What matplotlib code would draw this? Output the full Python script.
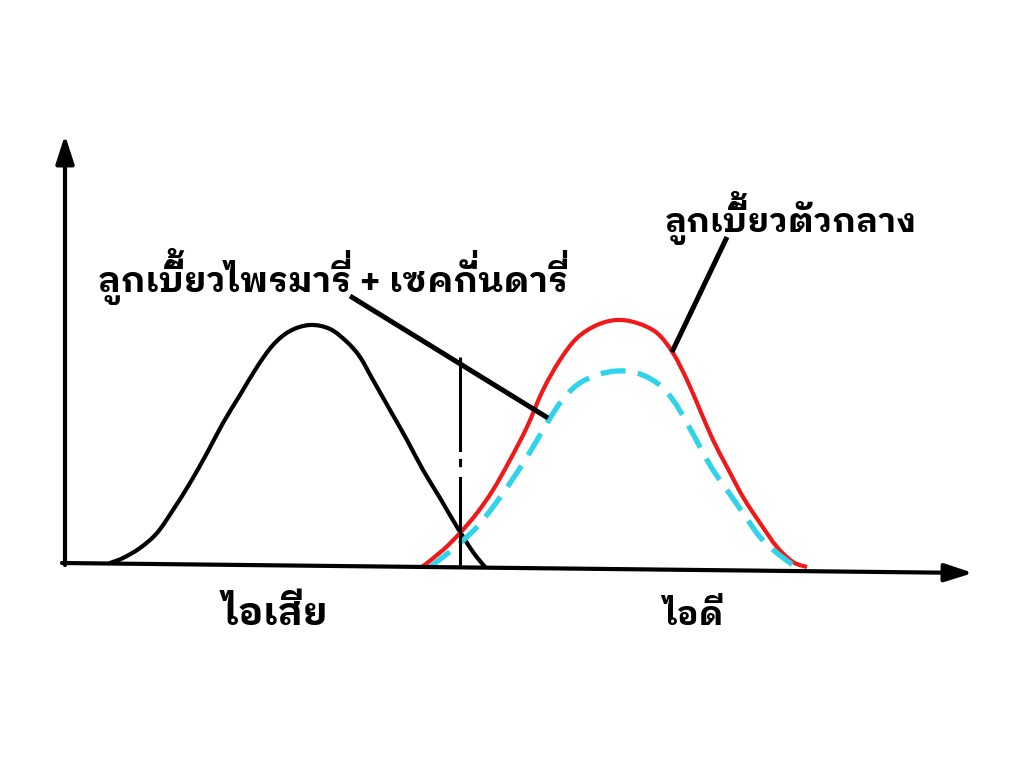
import matplotlib
matplotlib.use("Agg")
import matplotlib.pyplot as plt
from matplotlib import font_manager as fm
from matplotlib.path import Path
from matplotlib.patches import PathPatch
from matplotlib.transforms import IdentityTransform
import numpy as np

# ---------------- data (chart units: x right of origin, y above baseline) ----
black_x = [45, 58, 75, 92, 108, 125, 142, 158, 175, 192, 208, 225, 245,
           265, 282, 295, 308, 325, 342, 358, 375, 392, 408, 420]
black_y = [0, 5, 15, 30, 53, 80, 110, 140, 168, 196, 218, 232, 238,
           234, 221, 206, 183, 153, 123, 93, 65, 36, 11, -4]

red_x = [357, 378, 395, 412, 428, 445, 462, 478, 495, 512, 532, 552,
         572, 592, 608, 622, 635, 648, 662, 678, 695, 712, 728, 742]
red_y = [-4, 13, 30, 50, 73, 103, 136, 173, 203, 225, 238, 243,
         240, 230, 210, 183, 153, 123, 96, 66, 40, 16, 1, -4]

cyan_x = [365, 378, 395, 412, 428, 445, 462, 478, 495, 512, 532, 552,
          572, 592, 608, 622, 635, 648, 662, 678, 695, 712, 728]
cyan_y = [-4, 6, 20, 36, 56, 80, 106, 133, 160, 178, 188, 192,
          190, 180, 163, 140, 116, 93, 73, 50, 26, 10, -2]

cut_x = [395, 395]
cut_y = [206, -4]

label_primary = "ลูกเบี้ยวไพรมารี่ + เซคกั่นดารี่"
label_center = "ลูกเบี้ยวตัวกลาง"
label_bad = "ไอเสีย"
label_good = "ไอดี"

# ---------------- font with Thai glyphs --------------------------------------
def find_thai_font():
    try:
        from fontTools.ttLib import TTFont
    except Exception:
        return None
    cands = []
    for f in fm.fontManager.ttflist:
        try:
            t = TTFont(f.fname, fontNumber=0, lazy=True)
            cmap = t.getBestCmap()
            if cmap and 0x0E01 in cmap and 0x0E35 in cmap:
                n = f.name.lower()
                score = 0
                if "thai" in n:
                    score += 10
                if "looped" in n or n in ("loma", "garuda", "waree", "umpush", "tlwg typo"):
                    score += 20
                w = f.weight
                if w == "bold" or (isinstance(w, int) and w >= 700):
                    score += 5
                if "sans" in n:
                    score += 2
                if "ui" in n.split():
                    score -= 1
                cands.append((score, f))
        except Exception:
            pass
    if not cands:
        return None
    cands.sort(key=lambda c: -c[0])
    return cands[0][1]


thai_entry = find_thai_font()
if thai_entry is not None:
    FAMILY = [thai_entry.name, "DejaVu Sans"]
    WEIGHT = thai_entry.weight
else:
    FAMILY = ["DejaVu Sans"]
    WEIGHT = "bold"


def fp_at(size):
    return fm.FontProperties(family=FAMILY, weight=WEIGHT, size=size)


plt.rcParams["lines.scale_dashes"] = False

fig = plt.figure(figsize=(10.24, 7.68), dpi=100)
ax = fig.add_axes([0, 0, 1, 1])
ax.set_xlim(-65, 959)
ax.set_ylim(-205, 563)
ax.axis("off")


def smooth_path(xs, ys):
    P = np.column_stack([xs, ys]).astype(float)
    verts = [P[0]]
    codes = [Path.MOVETO]
    n = len(P)
    for i in range(n - 1):
        p0 = P[i - 1] if i > 0 else P[i]
        p1, p2 = P[i], P[i + 1]
        p3 = P[i + 2] if i + 2 < n else P[i + 1]
        verts += [p1 + (p2 - p0) / 6.0, p2 - (p3 - p1) / 6.0, p2]
        codes += [Path.CURVE4] * 3
    return Path(verts, codes)


# axes with arrows
arrow = "-|>,head_length=1.7,head_width=0.55"
ax.annotate("", xy=(0, 428), xytext=(0, -2),
            arrowprops=dict(arrowstyle=arrow, lw=3, color="black", shrinkA=0, shrinkB=0))
ax.annotate("", xy=(908, -10), xytext=(-3, 0),
            arrowprops=dict(arrowstyle=arrow, lw=3, color="black", shrinkA=0, shrinkB=0))

ax.add_patch(PathPatch(smooth_path(black_x, black_y), fill=False, ec="black", lw=3,
                       capstyle="round", joinstyle="round"))
ax.add_patch(PathPatch(smooth_path(red_x, red_y), fill=False, ec="#f01818", lw=3,
                       joinstyle="round"))
ax.add_patch(PathPatch(smooth_path(cyan_x, cyan_y), fill=False, ec="#2fd3ea", lw=3.8,
                       linestyle=(0, (18, 9))))
ax.plot(cut_x, cut_y, color="black", lw=2.2, linestyle=(0, (68, 5, 6, 7, 70)))

# pointer lines
ax.plot([285, 483], [267, 145], color="black", lw=3.6, solid_capstyle="butt")
ax.plot([662, 607], [326, 211], color="black", lw=3.6, solid_capstyle="butt")

fig.canvas.draw()
renderer = fig.canvas.get_renderer()

TONES = ("\u0e48", "\u0e49", "\u0e4a", "\u0e4b")
H = 768


def measure(s, prop):
    if not s:
        return 0.0, 0.0, 0.0
    return renderer.get_text_width_height_descent(s, prop, ismath=False)


def pen(s, prop):
    return measure("|" + s + "|", prop)[0] - measure("||", prop)[0]


def place_label(s, left_px, right_px, base_px, grow=1.06):
    base = "".join(c for c in s if c not in TONES)
    w, _, _ = measure(base, fp_at(30))
    size = 30 * (right_px - left_px) / w * grow
    prop = fp_at(size)
    w2, _, _ = measure(base, prop)
    x_left = 0.5 * (left_px + right_px) - 0.5 * w2
    em = size * 100 / 72.0

    # full label text (the tone marks inside it sit hidden under the vowels,
    # as there is no Thai mark stacking in the renderer)
    fig.text(x_left, H - base_px, s, fontproperties=prop, ha="left",
             va="baseline", transform=IdentityTransform(), color="black")

    if not any(c in TONES for c in s):
        return
    _, lp_h, lp_d = measure("lp", prop)
    raise_px = max(0.30 * em, lp_d)
    sp_adv = pen(" ", prop)
    for i, c in enumerate(s):
        if c not in TONES:
            continue
        pre = "".join(ch for ch in s[:i] if ch not in TONES)
        x_pen = x_left + pen(pre, prop)
        fig.text(x_pen - sp_adv, H - base_px + raise_px, " " + c, fontproperties=prop,
                 ha="left", va="baseline", transform=IdentityTransform(),
                 color="black")


place_label(label_primary, 112, 555, 292)
place_label(label_center, 672, 910, 232)
place_label(label_bad, 225, 325, 625)
place_label(label_good, 665, 722, 625)

fig.savefig("out.png", dpi=100)
